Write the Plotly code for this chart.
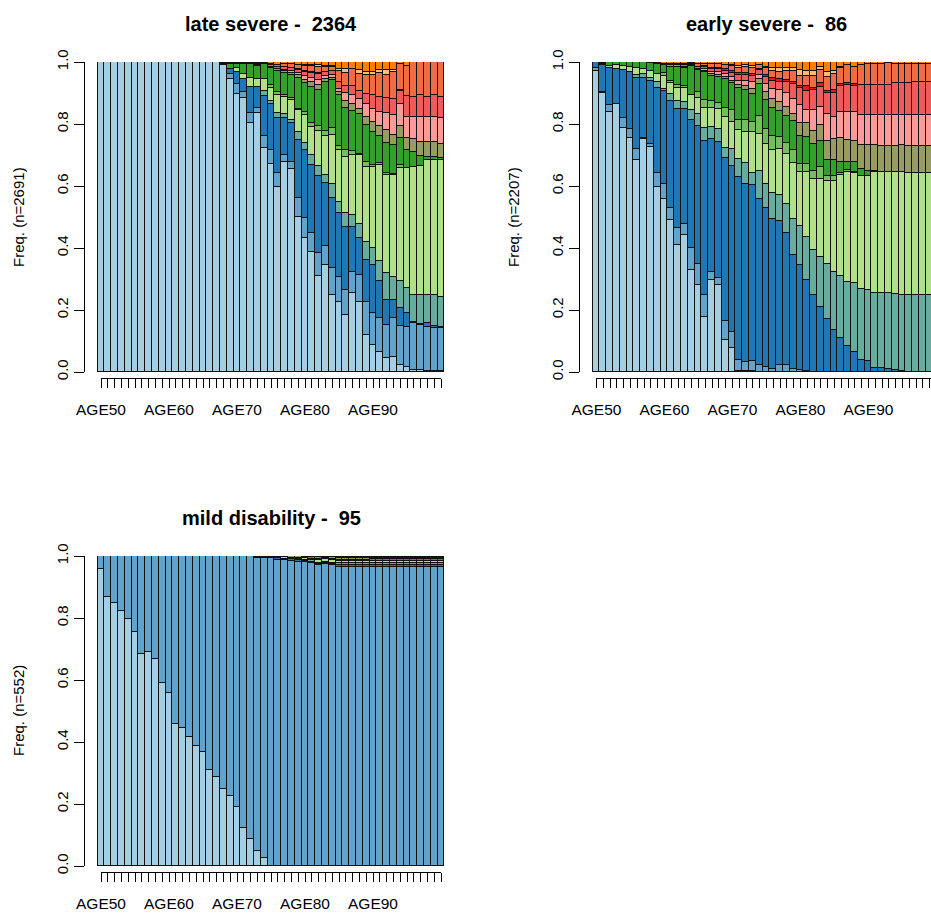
import plotly.graph_objects as go

# Sequence positions (one bar per age) and the axis labels that R keeps visible
AGES = list(range(50, 101))
age_labels = ["AGE%d" % a for a in AGES]
shown_ticks = ["AGE50", "AGE60", "AGE70", "AGE80", "AGE90"]

# State palette (Paired ramp), bottom state first
state_colors = ["#A6CEE3", "#62A3CB", "#1F78B4", "#68AB9F", "#B2DF8A", "#72BF5B", "#33A02C",
                "#979D62", "#FB9A99", "#EF5A5A", "#E31A1C", "#F06C45", "#FDBF6F", "#FF7F00"]

# ---------------- late severe (n=2691) : state frequencies per age ----------------
late_s01 = [1.0, 1.0, 1.0, 1.0, 1.0, 1.0, 1.0, 1.0, 1.0, 1.0, 1.0, 1.0, 1.0, 1.0, 1.0, 1.0, 1.0, 1.0,
            0.990, 0.944, 0.897, 0.885, 0.802, 0.837, 0.722, 0.672, 0.598, 0.676, 0.656, 0.501, 0.431,
            0.387, 0.309, 0.344, 0.248, 0.227, 0.184, 0.254, 0.227, 0.119, 0.087, 0.066, 0.044, 0.049,
            0.023, 0.017, 0.006, 0.006, 0.003, 0.003, 0.002]
late_s02 = [0, 0, 0, 0, 0, 0, 0, 0, 0, 0, 0, 0, 0, 0, 0, 0, 0, 0, 0,
            0.017, 0.031, 0.019, 0.032, 0.015, 0.038, 0.043, 0.043, 0.024, 0.022, 0.059, 0.065, 0.061,
            0.075, 0.061, 0.086, 0.081, 0.081, 0.070, 0.086, 0.108, 0.102, 0.108, 0.108, 0.124, 0.124,
            0.129, 0.151, 0.145, 0.143, 0.140, 0.140]
late_s03 = [0, 0, 0, 0, 0, 0, 0, 0, 0, 0, 0, 0, 0, 0, 0, 0, 0, 0,
            0.003, 0.018, 0.041, 0.041, 0.086, 0.068, 0.129, 0.151, 0.177, 0.120, 0.124, 0.188, 0.220,
            0.220, 0.247, 0.204, 0.226, 0.204, 0.204, 0.145, 0.118, 0.134, 0.156, 0.118, 0.081, 0.059,
            0.059, 0.043, 0.005, 0.005, 0.011, 0.004, 0.004]
late_s04 = [0, 0, 0, 0, 0, 0, 0, 0, 0, 0, 0, 0, 0, 0, 0, 0, 0, 0, 0, 0, 0, 0, 0, 0,
            0.018, 0.008, 0.016, 0.011, 0.011, 0.027, 0.022, 0.032, 0.032, 0.027, 0.048, 0.038, 0.043,
            0.038, 0.048, 0.059, 0.054, 0.065, 0.086, 0.075, 0.086, 0.081, 0.086, 0.091, 0.091, 0.102,
            0.097]
late_s05 = [0, 0, 0, 0, 0, 0, 0, 0, 0, 0, 0, 0, 0, 0, 0, 0, 0, 0, 0, 0,
            0.011, 0.015, 0.029, 0.025, 0.039, 0.043, 0.061, 0.057, 0.065, 0.070, 0.091, 0.091, 0.113,
            0.124, 0.156, 0.167, 0.183, 0.194, 0.220, 0.242, 0.263, 0.312, 0.317, 0.328, 0.366, 0.387,
            0.414, 0.419, 0.435, 0.435, 0.441]
late_s06 = [0, 0, 0, 0, 0, 0, 0, 0, 0, 0, 0, 0, 0, 0, 0, 0, 0, 0, 0, 0, 0, 0, 0, 0, 0,
            0.009, 0.009, 0.005, 0.005, 0.005, 0.011, 0.011, 0.016, 0.016, 0.022, 0.011, 0.022, 0.011,
            0.005, 0.016, 0.005, 0.005, 0.005, 0.005, 0.011, 0, 0, 0, 0, 0, 0]
late_s07 = [0, 0, 0, 0, 0, 0, 0, 0, 0, 0, 0, 0, 0, 0, 0, 0, 0, 0,
            0.003, 0.013, 0.013, 0.032, 0.043, 0.042, 0.048, 0.054, 0.067, 0.070, 0.075, 0.097, 0.091,
            0.118, 0.118, 0.161, 0.156, 0.167, 0.134, 0.129, 0.129, 0.118, 0.108, 0.086, 0.097, 0.091,
            0.086, 0.059, 0.048, 0.032, 0.011, 0.011, 0.005]
late_s08 = [0, 0, 0, 0, 0, 0, 0, 0, 0, 0, 0, 0, 0, 0, 0, 0, 0, 0, 0,
            0.004, 0.003, 0.003, 0.003, 0.004, 0.002, 0.005, 0.006, 0.007, 0.008, 0.010, 0.012, 0.015,
            0.016, 0.008, 0.006, 0.009, 0.022, 0.022, 0.016, 0.027, 0.032, 0.032, 0.043, 0.032, 0.038,
            0.038, 0.043, 0.043, 0.048, 0.048, 0.048]
late_s09 = [0, 0, 0, 0, 0, 0, 0, 0, 0, 0, 0, 0, 0, 0, 0, 0, 0, 0, 0, 0, 0, 0, 0, 0, 0, 0, 0,
            0.005, 0.006, 0.008, 0.012, 0.013, 0.016, 0.010, 0.010, 0.008, 0.027, 0.032, 0.032, 0.043,
            0.043, 0.048, 0.054, 0.065, 0.070, 0.070, 0.070, 0.081, 0.081, 0.081, 0.081]
late_s10 = [0, 0, 0, 0, 0, 0, 0, 0, 0, 0, 0, 0, 0, 0, 0, 0, 0, 0, 0, 0, 0, 0, 0, 0, 0,
            0.004, 0.006, 0.008, 0.009, 0.010, 0.014, 0.016, 0.019, 0.013, 0.012, 0.022, 0.022, 0.027,
            0.027, 0.032, 0.043, 0.048, 0.048, 0.054, 0.043, 0.065, 0.065, 0.070, 0.065, 0.070, 0.070]
late_s11 = [0, 0, 0, 0, 0, 0, 0, 0, 0, 0, 0, 0, 0, 0, 0, 0, 0, 0, 0, 0, 0, 0, 0, 0.003, 0, 0, 0, 0,
            0, 0.003, 0.003, 0.003, 0.003, 0, 0, 0, 0, 0, 0, 0, 0, 0, 0, 0, 0.005, 0, 0, 0, 0, 0, 0]
late_s12 = [0, 0, 0, 0, 0, 0, 0, 0, 0, 0, 0, 0, 0, 0, 0, 0, 0, 0,
            0.002, 0.002, 0.002, 0.003, 0.003, 0.003, 0.002, 0.005, 0.008, 0.010, 0.012, 0.013, 0.016,
            0.019, 0.021, 0.016, 0.015, 0.037, 0.043, 0.054, 0.054, 0.059, 0.065, 0.075, 0.075, 0.086,
            0.084, 0.097, 0.112, 0.108, 0.112, 0.106, 0.112]
late_s13 = [0, 0, 0, 0, 0, 0, 0, 0, 0, 0, 0, 0, 0, 0, 0, 0, 0, 0, 0, 0, 0, 0, 0, 0, 0, 0, 0, 0, 0, 0,
            0.003, 0.004, 0.004, 0.004, 0.003, 0.005, 0.011, 0, 0.011, 0.011, 0.011, 0.011, 0.016, 0.005,
            0, 0, 0, 0, 0, 0, 0]
late_s15 = [0, 0, 0, 0, 0, 0, 0, 0, 0, 0, 0, 0, 0, 0, 0, 0, 0, 0,
            0.002, 0.002, 0.002, 0.002, 0.002, 0.003, 0.002, 0.006, 0.009, 0.007, 0.007, 0.009, 0.009,
            0.010, 0.011, 0.012, 0.012, 0.024, 0.024, 0.024, 0.027, 0.032, 0.031, 0.026, 0.026, 0.027,
            0.005, 0.014, 0, 0, 0, 0, 0]

# ---------------- early severe (n=2207) ----------------
early_s01 = [0.971, 0.899, 0.838, 0.863, 0.788, 0.754, 0.684, 0.752, 0.726, 0.598, 0.559, 0.490, 0.409,
             0.441, 0.329, 0.282, 0.178, 0.298, 0.282, 0.104, 0.078, 0.003, 0.002, 0.002,
             0, 0, 0, 0, 0, 0, 0, 0, 0, 0, 0, 0, 0, 0, 0, 0, 0, 0, 0, 0, 0, 0, 0, 0, 0, 0, 0]
early_s02 = [0.009, 0.005, 0.024, 0.003, 0.030, 0.030, 0.035, 0.004, 0.008, 0.043, 0.048, 0.038, 0.056,
             0.038, 0.070, 0.068, 0.072, 0.024, 0.022, 0.059, 0.052, 0.035, 0.030, 0.035, 0.022, 0.016,
             0.011, 0.021, 0.021, 0.009, 0.006, 0.003,
             0, 0, 0, 0, 0, 0, 0, 0, 0, 0, 0, 0, 0, 0, 0, 0, 0, 0, 0]
early_s03 = [0.020, 0.086, 0.120, 0.113, 0.156, 0.183, 0.230, 0.194, 0.204, 0.276, 0.298, 0.346, 0.383,
             0.369, 0.414, 0.444, 0.495, 0.431, 0.437, 0.527, 0.535, 0.592, 0.576, 0.567, 0.537, 0.514,
             0.482, 0.465, 0.427, 0.368, 0.338, 0.294, 0.247, 0.209, 0.170, 0.135, 0.111, 0.085, 0.066,
             0.038, 0.034, 0.013, 0.013, 0.009, 0.005, 0.002, 0, 0, 0, 0, 0]
early_s04 = [0, 0, 0, 0, 0, 0, 0.009, 0.011, 0.011, 0.017, 0.009, 0.022, 0.026, 0.024, 0.032, 0.037,
             0.043, 0.038, 0.043, 0.032, 0.054, 0.057, 0.065, 0.038, 0.090, 0.078, 0.086, 0.086, 0.094,
             0.116, 0.126, 0.137, 0.145, 0.161, 0.180, 0.188, 0.200, 0.206, 0.220, 0.231, 0.229, 0.243,
             0.243, 0.247, 0.247, 0.247, 0.249, 0.249, 0.249, 0.249, 0.249]
early_s05 = [0, 0.004, 0.006, 0.011, 0.014, 0.018, 0.022, 0.017, 0.022, 0.026, 0.041, 0.035, 0.043,
             0.043, 0.048, 0.054, 0.065, 0.061, 0.065, 0.099, 0.088, 0.094, 0.100, 0.132, 0.118, 0.126,
             0.137, 0.148, 0.161, 0.180, 0.175, 0.211, 0.229, 0.251, 0.266, 0.292, 0.323, 0.353, 0.355,
             0.363, 0.369, 0.389, 0.389, 0.389, 0.392, 0.396, 0.394, 0.394, 0.394, 0.394, 0.394]
early_s06 = [0, 0, 0, 0, 0, 0, 0, 0, 0, 0, 0.008, 0.008, 0.009, 0.009, 0, 0.019, 0.025, 0.022, 0.018,
             0.032, 0.038, 0.032, 0.040, 0.034, 0.060, 0.049, 0.046, 0.038, 0.035, 0.043, 0.026, 0.026,
             0.026, 0.040, 0.017, 0.017, 0.008, 0.008, 0.005, 0, 0, 0, 0, 0, 0, 0, 0, 0, 0, 0, 0]
early_s07 = [0, 0.004, 0.012, 0.010, 0.012, 0.015, 0.020, 0.022, 0.025, 0.032, 0.027, 0.046, 0.059,
             0.056, 0.095, 0.070, 0.089, 0.082, 0.086, 0.092, 0.086, 0.102, 0.097, 0.088, 0.101, 0.094,
             0.090, 0.083, 0.089, 0.094, 0.089, 0.086, 0.089, 0.083, 0.051, 0.051, 0.035, 0.025, 0.030,
             0.024, 0.018, 0.005, 0, 0, 0, 0, 0, 0, 0, 0, 0]
early_s08 = [0, 0, 0, 0, 0, 0, 0, 0, 0, 0, 0, 0.004, 0.004, 0.005, 0.003, 0, 0.004, 0.005, 0.006,
             0.006, 0.008, 0.010, 0.012, 0.016, 0.017, 0.025, 0.028, 0.030, 0.029, 0.022, 0.043, 0.046,
             0.040, 0.052, 0.061, 0.070, 0.077, 0.072, 0.069, 0.077, 0.081, 0.081, 0.084, 0.084, 0.086,
             0.086, 0.086, 0.086, 0.085, 0.085, 0.085]
early_s09 = [0, 0, 0, 0, 0, 0, 0, 0, 0, 0, 0, 0, 0, 0, 0, 0.005, 0.006, 0.008, 0.008, 0.010, 0.012,
             0.015, 0.018, 0.022, 0.012, 0.026, 0.032, 0.038, 0.043, 0.049, 0.059, 0.043, 0.068, 0.059,
             0.086, 0.070, 0.084, 0.091, 0.095, 0.097, 0.099, 0.099, 0.101, 0.099, 0.099, 0.099, 0.101,
             0.101, 0.101, 0.101, 0.101]
early_s10 = [0, 0, 0, 0, 0, 0, 0, 0, 0, 0, 0, 0, 0, 0.004, 0.003, 0.005, 0.006, 0.008, 0.010, 0.010,
             0.012, 0.018, 0.018, 0.020, 0.016, 0.025, 0.026, 0.027, 0.035, 0.047, 0.054, 0.061, 0.065,
             0.065, 0.068, 0.078, 0.086, 0.086, 0.084, 0.095, 0.095, 0.095, 0.097, 0.097, 0.103, 0.103,
             0.103, 0.105, 0.105, 0.105, 0.105]
early_s11 = [0, 0, 0, 0, 0, 0, 0, 0, 0, 0, 0, 0, 0, 0, 0, 0, 0.004, 0.005, 0.005, 0.006, 0.008, 0.008,
             0.008, 0.008, 0.004, 0.005, 0.009, 0.009, 0.008, 0.006, 0.005, 0.014, 0.008, 0.011, 0.008,
             0.008, 0.004, 0.005, 0.004, 0, 0, 0, 0, 0, 0, 0, 0, 0, 0, 0, 0]
early_s12 = [0, 0, 0, 0, 0, 0, 0, 0, 0, 0.004, 0.005, 0.006, 0.006, 0.006, 0.003, 0.008, 0.006, 0.010,
             0.010, 0.012, 0.015, 0.016, 0.018, 0.018, 0.013, 0.022, 0.024, 0.024, 0.029, 0.037, 0.035,
             0.035, 0.039, 0.043, 0.046, 0.051, 0.052, 0.059, 0.057, 0.065, 0.067, 0.067, 0.065, 0.071,
             0.062, 0.062, 0.062, 0.060, 0.061, 0.061, 0.061]
early_s13 = [0, 0, 0, 0, 0, 0, 0, 0, 0, 0, 0, 0, 0, 0, 0, 0, 0, 0, 0, 0, 0.004, 0.006, 0.006, 0.008, 0,
             0.005, 0.011, 0.013, 0.011, 0.011, 0.018, 0.015, 0.015, 0.011, 0.014, 0.011, 0.005,
             0, 0, 0, 0, 0, 0, 0, 0, 0, 0, 0, 0, 0, 0]
early_s15 = [0, 0.002, 0, 0, 0, 0, 0, 0, 0.004, 0.004, 0.005, 0.005, 0.005, 0.005, 0.003, 0.008, 0.007,
             0.008, 0.008, 0.011, 0.010, 0.012, 0.010, 0.012, 0.010, 0.015, 0.018, 0.018, 0.018, 0.018,
             0.026, 0.029, 0.029, 0.015, 0.033, 0.029, 0.015, 0.010, 0.015, 0.010, 0.008, 0.008, 0.008,
             0.004, 0.006, 0.005, 0.005, 0.005, 0.005, 0.005, 0.005]

# ---------------- mild disability (n=552) ----------------
mild_s01 = [0.957, 0.867, 0.847, 0.824, 0.796, 0.756, 0.684, 0.691, 0.668, 0.589, 0.557, 0.457, 0.444,
            0.417, 0.388, 0.369, 0.310, 0.288, 0.248, 0.226, 0.189, 0.122, 0.086, 0.049, 0.027,
            0, 0, 0, 0, 0, 0, 0, 0, 0, 0, 0, 0, 0, 0, 0, 0, 0, 0, 0, 0, 0, 0, 0, 0, 0, 0]
mild_s02 = [0.043, 0.133, 0.153, 0.176, 0.204, 0.244, 0.316, 0.309, 0.332, 0.411, 0.443, 0.543, 0.556,
            0.583, 0.612, 0.631, 0.690, 0.712, 0.752, 0.774, 0.811, 0.878, 0.914, 0.946, 0.967, 0.992,
            0.987, 0.987, 0.985, 0.982, 0.981, 0.978, 0.970, 0.974, 0.970, 0.966, 0.966, 0.966, 0.966,
            0.966, 0.966, 0.966, 0.966, 0.966, 0.966, 0.966, 0.966, 0.966, 0.966, 0.966, 0.966]
mild_s03 = [0, 0, 0, 0, 0, 0, 0, 0, 0, 0, 0, 0, 0, 0, 0, 0, 0, 0, 0, 0, 0, 0, 0,
            0.002, 0.003, 0.004, 0.005, 0.004, 0.005, 0.004, 0.004, 0.004, 0.004, 0.004, 0.004, 0.004,
            0.004, 0.004, 0.004, 0.004, 0.004, 0.004, 0.004, 0.004, 0.004, 0.004, 0.004, 0.004, 0.004,
            0.004, 0.004]
mild_s04 = [0, 0, 0, 0, 0, 0, 0, 0, 0, 0, 0, 0, 0, 0, 0, 0, 0, 0, 0, 0, 0, 0, 0, 0, 0, 0, 0, 0, 0, 0,
            0.003, 0.004, 0.004, 0.004, 0.005, 0.006, 0.006, 0.006, 0.006, 0.006, 0.006, 0.006, 0.006,
            0.006, 0.006, 0.006, 0.006, 0.006, 0.006, 0.006, 0.006]
mild_s05 = [0, 0, 0, 0, 0, 0, 0, 0, 0, 0, 0, 0, 0, 0, 0, 0, 0, 0, 0, 0, 0, 0, 0, 0, 0,
            0.004, 0.005, 0.006, 0, 0.004, 0.006, 0.005, 0.009, 0.007, 0.008, 0.009, 0.009, 0.009,
            0.009, 0.009, 0.009, 0.009, 0.009, 0.009, 0.009, 0.009, 0.009, 0.009, 0.009, 0.009, 0.009]
mild_s07 = [0, 0, 0, 0, 0, 0, 0, 0, 0, 0, 0, 0, 0, 0, 0, 0, 0, 0, 0, 0, 0, 0, 0,
            0.003, 0.003, 0, 0.003, 0.003, 0.005, 0.005, 0.003, 0.005, 0, 0, 0.004, 0.003, 0.003, 0.003,
            0.003, 0.003, 0.004, 0.004, 0.004, 0.004, 0.004, 0.004, 0.004, 0.004, 0.004, 0.004, 0.004]
mild_s08 = [0, 0, 0, 0, 0, 0, 0, 0, 0, 0, 0, 0, 0, 0, 0, 0, 0, 0, 0, 0, 0, 0, 0, 0, 0, 0, 0, 0,
            0.005, 0.005, 0.003, 0.004, 0.004, 0.003, 0.005, 0.004, 0.004, 0.004, 0.004, 0.004, 0.004,
            0.004, 0.004, 0.004, 0.004, 0.004, 0.004, 0.004, 0.004, 0.004, 0.004]
mild_s10 = [0, 0, 0, 0, 0, 0, 0, 0, 0, 0, 0, 0, 0, 0, 0, 0, 0, 0, 0, 0, 0, 0, 0, 0, 0, 0, 0, 0, 0, 0,
            0, 0, 0.005, 0.004, 0, 0.004, 0.004, 0.004, 0.004, 0.004, 0, 0, 0, 0, 0, 0, 0, 0, 0, 0, 0]
mild_s12 = [0, 0, 0, 0, 0, 0, 0, 0, 0, 0, 0, 0, 0, 0, 0, 0, 0, 0, 0, 0, 0, 0, 0, 0, 0, 0, 0, 0, 0, 0,
            0, 0, 0.004, 0.004, 0.004, 0.004, 0.004, 0.004, 0.004, 0.004, 0.003, 0.003, 0.003, 0.003,
            0.003, 0.003, 0.003, 0.003, 0.003, 0.003, 0.003]
mild_s15 = [0, 0, 0, 0, 0, 0, 0, 0, 0, 0, 0, 0, 0, 0, 0, 0, 0, 0, 0, 0, 0, 0, 0, 0, 0, 0, 0, 0, 0, 0,
            0, 0, 0, 0, 0, 0, 0, 0, 0, 0, 0.004, 0.004, 0.004, 0.004, 0.004, 0.004, 0.004, 0.004, 0.004,
            0.004, 0.004]

panels = [
    dict(title="late severe -  2364", ylab="Freq. (n=2691)",
         series=[late_s01, late_s02, late_s03, late_s04, late_s05, late_s06, late_s07, late_s08,
                 late_s09, late_s10, late_s11, late_s12, late_s13, late_s15],
         bar_left=97.6, top=62, bottom=372, ylab_x=18),
    dict(title="early severe -  86", ylab="Freq. (n=2207)",
         series=[early_s01, early_s02, early_s03, early_s04, early_s05, early_s06, early_s07, early_s08,
                 early_s09, early_s10, early_s11, early_s12, early_s13, early_s15],
         bar_left=593.0, top=62, bottom=372, ylab_x=513),
    dict(title="mild disability -  95", ylab="Freq. (n=552)",
         series=[mild_s01, mild_s02, mild_s03, mild_s04, mild_s05, None, mild_s07, mild_s08,
                 None, mild_s10, None, mild_s12, None, mild_s15],
         bar_left=97.6, top=556, bottom=866, ylab_x=18),
]

# ---------------- page geometry (pixels) ----------------
W, H = 931, 913
BAR_W = 6.8          # width of one age column
AXIS_GAP = 12.6      # distance from first bar to the frequency axis line
FONT = "Liberation Sans, Arial, Helvetica, sans-serif"

idx = list(range(len(AGES)))
fig = go.Figure()
layout = dict(width=W, height=H,
              margin=dict(l=0, r=0, t=0, b=0, pad=0, autoexpand=False),
              paper_bgcolor="white", plot_bgcolor="rgba(0,0,0,0)",
              barmode="stack", bargap=0, showlegend=False,
              font=dict(family=FONT, color="black", size=15))
annotations = []

for k, p in enumerate(panels):
    bx = "x" if k == 0 else "x%d" % (k + 1)
    by = "y" if k == 0 else "y%d" % (k + 1)
    tx = "x%d" % (k + 4)
    bx_key = "xaxis" if k == 0 else "xaxis%d" % (k + 1)
    by_key = "yaxis" if k == 0 else "yaxis%d" % (k + 1)
    tx_key = "xaxis%d" % (k + 4)

    left_px = p["bar_left"] - AXIS_GAP
    right_px = min(p["bar_left"] + len(AGES) * BAR_W + AXIS_GAP, W)
    r0 = -0.5 - AXIS_GAP / BAR_W
    r1 = -0.5 + (right_px - p["bar_left"]) / BAR_W

    for s, vals in enumerate(p["series"]):
        if vals is None:
            continue
        fig.add_trace(go.Bar(
            x=idx, y=vals, width=1.0, xaxis=bx, yaxis=by,
            marker=dict(color=state_colors[s], line=dict(color="#111111", width=1)),
            hoverinfo="skip", showlegend=False))

    layout[bx_key] = dict(domain=[left_px / W, right_px / W], range=[r0, r1],
                          visible=False, fixedrange=True, anchor=by, automargin=False)
    layout[by_key] = dict(domain=[1 - p["bottom"] / H, 1 - p["top"] / H], range=[0, 1],
                          anchor=bx, showline=True, linecolor="black", linewidth=1,
                          ticks="outside", ticklen=10, tickcolor="black", tickwidth=1,
                          tickvals=[0, 0.2, 0.4, 0.6, 0.8, 1.0],
                          ticktext=["0.0", "0.2", "0.4", "0.6", "0.8", "1.0"],
                          tickangle=-90, tickfont=dict(size=15, color="black"),
                          showgrid=False, zeroline=False, fixedrange=True, automargin=False)

    # separate axis carrying the age ticks, spanning first to last column centre
    t_left = p["bar_left"] + BAR_W / 2
    t_right = min(t_left + (len(AGES) - 1) * BAR_W, W)
    layout[tx_key] = dict(domain=[t_left / W, t_right / W],
                          range=[0, (t_right - t_left) / BAR_W],
                          anchor="free", position=1 - (p["bottom"] + 6.3) / H,
                          showline=True, linecolor="black", linewidth=1,
                          ticks="outside", ticklen=9, tickcolor="black", tickwidth=1,
                          tickvals=idx,
                          ticktext=[lab if lab in shown_ticks else "" for lab in age_labels],
                          tickangle=0, tickfont=dict(size=15.5, color="black"),
                          ticklabelstandoff=8, automargin=False,
                          showgrid=False, zeroline=False, fixedrange=True)
    fig.add_trace(go.Scatter(x=[0], y=[0], xaxis=tx, yaxis=by, mode="markers",
                             marker=dict(size=1, opacity=0), hoverinfo="skip", showlegend=False))

    centre_px = (left_px + p["bar_left"] + len(AGES) * BAR_W + AXIS_GAP) / 2
    annotations.append(dict(text="<b>%s</b>" % p["title"], x=centre_px / W,
                            y=1 - (p["top"] - 38) / H, xref="paper", yref="paper",
                            xanchor="center", yanchor="middle", showarrow=False,
                            font=dict(size=20, family=FONT, color="black")))
    annotations.append(dict(text=p["ylab"], x=p["ylab_x"] / W,
                            y=1 - (p["top"] + p["bottom"]) / 2 / H, xref="paper", yref="paper",
                            xanchor="center", yanchor="middle", showarrow=False, textangle=-90,
                            font=dict(size=15, family=FONT, color="black")))

layout["annotations"] = annotations
fig.update_layout(**layout)
fig.write_html("out.html")
